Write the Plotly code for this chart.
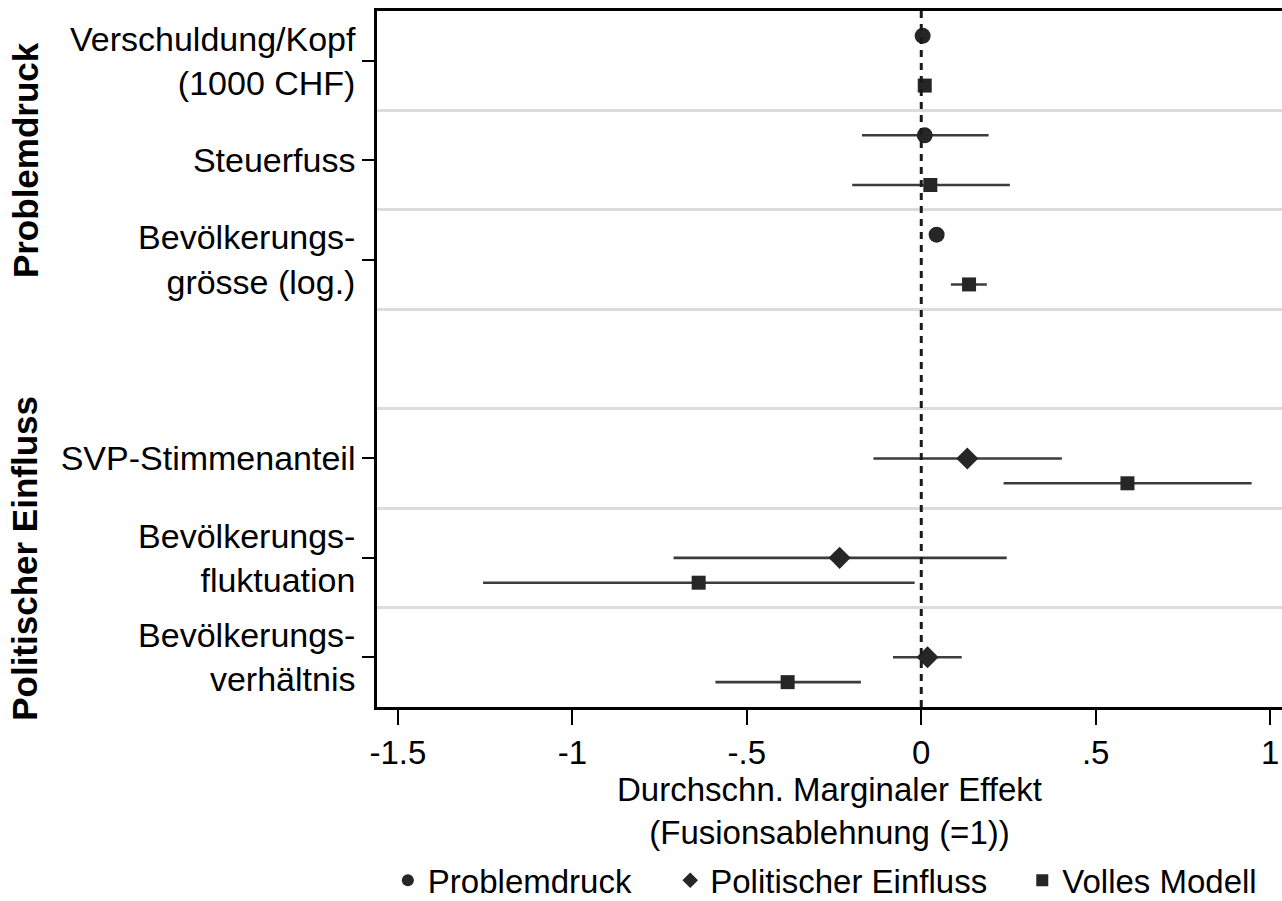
import plotly.graph_objects as go

# ---- data ----
row_labels = ["Verschuldung/Kopf<br>(1000 CHF)", "Steuerfuss", "Bevölkerungs-<br>grösse (log.)",
              "SVP-Stimmenanteil", "Bevölkerungs-<br>fluktuation", "Bevölkerungs-<br>verhältnis"]
row_pos = [0, 1, 2, 4, 5, 6]
group_labels = ["Problemdruck", "Politischer Einfluss"]
group_pos = [1, 5]

# Model "Problemdruck" (rows 0-2)
pd_rows = [0, 1, 2]
pd_est = [0.004, 0.010, 0.044]
pd_lo = [0.000, -0.170, 0.030]
pd_hi = [0.008, 0.193, 0.058]

# Model "Politischer Einfluss" (rows 4-6)
pe_rows = [4, 5, 6]
pe_est = [0.132, -0.234, 0.018]
pe_lo = [-0.137, -0.710, -0.081]
pe_hi = [0.403, 0.245, 0.116]

# Model "Volles Modell" (all rows)
vm_rows = [0, 1, 2, 4, 5, 6]
vm_est = [0.010, 0.026, 0.137, 0.591, -0.638, -0.383]
vm_lo = [0.004, -0.198, 0.085, 0.236, -1.256, -0.590]
vm_hi = [0.016, 0.254, 0.188, 0.947, -0.019, -0.173]

x_ticks = [-1.5, -1, -0.5, 0, 0.5, 1]
x_ticktext = ["-1.5", "-1", "-.5", "0", ".5", "1"]

models = [
    ("Problemdruck", pd_rows, pd_est, pd_lo, pd_hi, -0.25, "circle", 16, "legend", 0.012),
    ("Politischer Einfluss", pe_rows, pe_est, pe_lo, pe_hi, 0.0, "diamond", 17, "legend2", 0.324),
    ("Volles Modell", vm_rows, vm_est, vm_lo, vm_hi, 0.25, "square", 14, "legend3", 0.713),
]

FONT = "Liberation Sans, Arial, sans-serif"
MARK = "#262626"
LINE = "#3c3c3c"

fig = go.Figure()
legend_layout = {}
for name, rows, est, lo, hi, off, sym, size, leg, lx in models:
    fig.add_trace(go.Scatter(
        x=est,
        y=[r + off for r in rows],
        mode="markers",
        name=name,
        legend=leg,
        marker=dict(symbol=sym, size=size, color=MARK, line=dict(width=0)),
        error_x=dict(type="data", symmetric=False,
                     array=[h - e for h, e in zip(hi, est)],
                     arrayminus=[e - l for e, l in zip(est, lo)],
                     width=0, thickness=2.6, color=LINE),
    ))
    legend_layout[leg] = dict(orientation="h", x=lx, xanchor="left", y=-0.249, yanchor="middle",
                              font=dict(size=33), itemsizing="constant", itemwidth=30,
                              bgcolor="rgba(0,0,0,0)")

fig.add_vline(x=0, line=dict(color="#1a1a1a", width=3, dash="7px,6px"), layer="above")

for txt, yp in zip(group_labels, group_pos):
    fig.add_annotation(text="<b>" + txt + "</b>", x=-0.389, xref="paper", y=yp, yref="y",
                       textangle=-90, showarrow=False, xanchor="center", yanchor="middle",
                       font=dict(size=35, family=FONT, color="black"))

fig.update_layout(
    width=1282, height=901,
    margin=dict(l=377, r=0, t=11, b=194, autoexpand=False),
    paper_bgcolor="white", plot_bgcolor="white",
    font=dict(family=FONT, size=34, color="black"),
    showlegend=True,
    xaxis=dict(range=[-1.56, 1.034], tickvals=x_ticks, ticktext=x_ticktext,
               showgrid=False, zeroline=False, showline=True, linecolor="black", linewidth=2.5,
               mirror=True, ticks="outside", ticklen=15, tickwidth=2, tickcolor="black",
               tickfont=dict(size=33),
               title=dict(text="Durchschn. Marginaler Effekt<br>(Fusionsablehnung (=1))",
                          font=dict(size=33), standoff=0)),
    yaxis=dict(range=[6.5, -0.5], tickvals=row_pos, ticktext=row_labels,
               showgrid=False, zeroline=False, showline=True, linecolor="black", linewidth=2.5,
               ticks="outside", ticklen=12, tickwidth=2, tickcolor="black",
               tickfont=dict(size=34),
               minor=dict(tickmode="array", tickvals=[0.5, 1.5, 2.5, 3.5, 4.5, 5.5],
                          showgrid=True, gridcolor="#dcdcdc", gridwidth=2.5, ticks="")),
    **legend_layout,
)

fig.write_html("out.html", config={"displayModeBar": False},
               post_script="document.body.style.margin='0';")
